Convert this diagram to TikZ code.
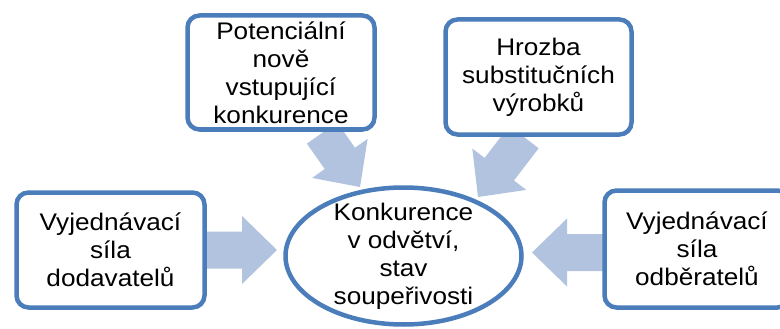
\documentclass[tikz,border=0pt]{standalone}
\usepackage{fontspec}
\setmainfont[FakeStretch=1.09]{Liberation Sans}
\usetikzlibrary{calc,shapes.geometric}
\definecolor{boxblue}{RGB}{74,125,186}
\definecolor{arrowblue}{RGB}{177,195,223}
\tikzset{
  forcebox/.style={draw=boxblue, line width=4.5pt, fill=white, rounded corners=12pt,
    rectangle, align=center, inner sep=0pt, font=\fontsize{24}{28}\selectfont},
  centreell/.style={draw=boxblue, line width=4.5pt, fill=white, ellipse, inner sep=0pt},
  centretext/.style={align=center, inner sep=0pt, font=\fontsize{24}{28}\selectfont},
  arrowfill/.style={fill=arrowblue}
}
\newcommand\blockarr[2]{%
  \coordinate (#1-#2-m) at ($(#2)!35pt!(#1)$);
  \fill[arrowfill] ($(#1)!18.5pt!-90:(#2)$) -- ($(#1-#2-m)!18.5pt!-90:(#2)$)
    -- ($(#1-#2-m)!34pt!-90:(#2)$) -- (#2) -- ($(#1-#2-m)!34pt!90:(#2)$)
    -- ($(#1-#2-m)!18.5pt!90:(#2)$) -- ($(#1)!18.5pt!90:(#2)$) -- cycle;}
\begin{document}
\begin{tikzpicture}[x=1pt,y=-1pt]
\useasboundingbox (0,0) rectangle (780,329);
% arrow end points
\coordinate (tls) at (322,133);
\coordinate (tle) at (360,187);
\coordinate (trs) at (524,137);
\coordinate (tre) at (478,197);
\coordinate (lbs) at (200,250);
\coordinate (lbe) at (277,250);
\coordinate (rbs) at (610,252.5);
\coordinate (rbe) at (532,252.5);
% arrows (behind the shapes)
\blockarr{tls}{tle}
\blockarr{trs}{tre}
\blockarr{lbs}{lbe}
\blockarr{rbs}{rbe}
% shapes
\node[forcebox, minimum width=187pt, minimum height=114pt] (tl) at (281,72.5)
  {Potenciální\\nově\\vstupující\\konkurence};
\node[forcebox, minimum width=186pt, minimum height=115pt] (tr) at (538.5,77)
  {Hrozba\\substitučních\\výrobků};
\node[forcebox, minimum width=188pt, minimum height=115pt] (lb) at (110.5,250)
  {Vyjednávací\\síla\\dodavatelů};
\node[forcebox, minimum width=185pt, minimum height=117pt] (rb) at (697,249)
  {Vyjednávací\\síla\\odběratelů};
\node[centreell, minimum width=236pt, minimum height=137pt] (ell) at (403.5,256) {};
\node[centretext] (ellt) at (ell.center) {Konkurence\\v odvětví,\\stav\\soupeřivosti};
\end{tikzpicture}
\end{document}
